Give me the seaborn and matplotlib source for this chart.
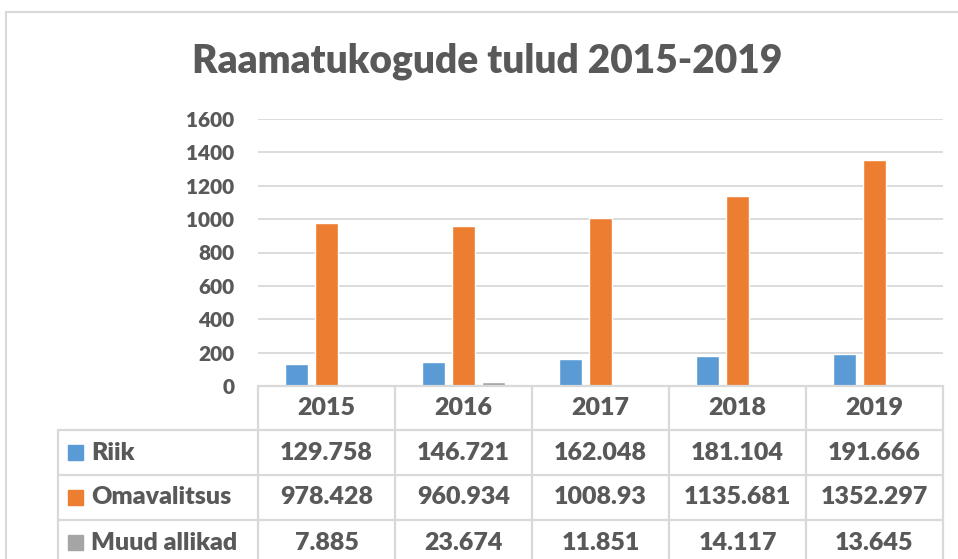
import matplotlib
matplotlib.use("Agg")
import matplotlib.pyplot as plt
import pandas as pd
import seaborn as sns
from matplotlib.lines import Line2D
from matplotlib.patches import Rectangle

# data
years = ["2015", "2016", "2017", "2018", "2019"]
series = ["Riik", "Omavalitsus", "Muud allikad"]
riik = [129.758, 146.721, 162.048, 181.104, 191.666]
omavalitsus = [978.428, 960.934, 1008.93, 1135.681, 1352.297]
muud = [7.885, 23.674, 11.851, 14.117, 13.645]
yticks = [0, 200, 400, 600, 800, 1000, 1200, 1400, 1600]
colors = ["#5B9BD5", "#ED7D31", "#A5A5A5"]
title = "Raamatukogude tulud 2015-2019"

W, H = 958, 559
TXT = "#595959"
LINE = "#D9D9D9"

sns.set_style("white")
plt.rcParams["font.family"] = ["Lato", "DejaVu Sans"]
plt.rcParams["font.weight"] = "heavy"

values = [riik, omavalitsus, muud]
df = pd.DataFrame({
    "year": years * len(series),
    "series": [s for s in series for _ in years],
    "value": riik + omavalitsus + muud,
})


def fx(x):
    return x / W


def fy(y):
    return 1 - y / H


def hline(y, x0, x1):
    fig.add_artist(Line2D([fx(x0), fx(x1)], [fy(y), fy(y)], color=LINE, lw=1.6,
                          transform=fig.transFigure))


def vline(x, y0, y1):
    fig.add_artist(Line2D([fx(x), fx(x)], [fy(y0), fy(y1)], color=LINE, lw=1.6,
                          transform=fig.transFigure))


fig = plt.figure(figsize=(W / 100, H / 100), dpi=100)

left, right, top, bottom = 258, 943, 119, 386
ax = fig.add_axes([fx(left), fy(bottom), (right - left) / W, (bottom - top) / H])
sns.barplot(data=df, x="year", y="value", hue="series", palette=colors,
            width=0.66, gap=0.23, saturation=1, errorbar=None, legend=False, ax=ax)
ax.set_ylim(0, 1600)
ax.set_xlim(-0.5, len(years) - 0.5)
ax.set_yticks(yticks)
ax.set_yticklabels([str(t) for t in yticks])
ax.set_xticks([])
ax.set_xlabel("")
ax.set_ylabel("")
ax.grid(axis="y", color=LINE, lw=1.3)
ax.set_axisbelow(True)
for s in ax.spines.values():
    s.set_visible(False)
ax.tick_params(axis="y", length=0, pad=17, labelsize=15, labelcolor=TXT)

# title
fig.text(fx(487), fy(61), title, ha="center", va="center", fontsize=28,
         color=TXT, fontweight="heavy")

# outer chart frame
fig.add_artist(Line2D([fx(6), fx(6)], [fy(12), 0], color=LINE, lw=1.5,
                      transform=fig.transFigure))
fig.add_artist(Line2D([fx(6), 1], [fy(12), fy(12)], color=LINE, lw=1.5,
                      transform=fig.transFigure))

# data table
col_w = (right - left) / len(years)
col_x = [left + i * col_w for i in range(len(years) + 1)]
row_y = [386, 430, 475, 520, 565]
lab_left = 58

hline(row_y[0], left, right)
for y in row_y[1:4]:
    hline(y, lab_left, right)
for x in col_x:
    vline(x, row_y[0], H)
vline(lab_left, row_y[1], H)

for i, yr in enumerate(years):
    fig.text(fx(col_x[i] + col_w / 2), fy((row_y[0] + row_y[1]) / 2), yr,
             ha="center", va="center", fontsize=18, color=TXT)

for r, name in enumerate(series):
    yc = (row_y[r + 1] + row_y[r + 2]) / 2
    fig.add_artist(Rectangle((fx(68), fy(yc + 7.5)), 15 / W, 15 / H,
                             color=colors[r], transform=fig.transFigure))
    fig.text(fx(91), fy(yc), name, ha="left", va="center", fontsize=18, color=TXT)
    for i, v in enumerate(values[r]):
        fig.text(fx(col_x[i] + col_w / 2), fy(yc), str(v),
                 ha="center", va="center", fontsize=18, color=TXT)

fig.savefig("out.png", dpi=100, facecolor="white")
